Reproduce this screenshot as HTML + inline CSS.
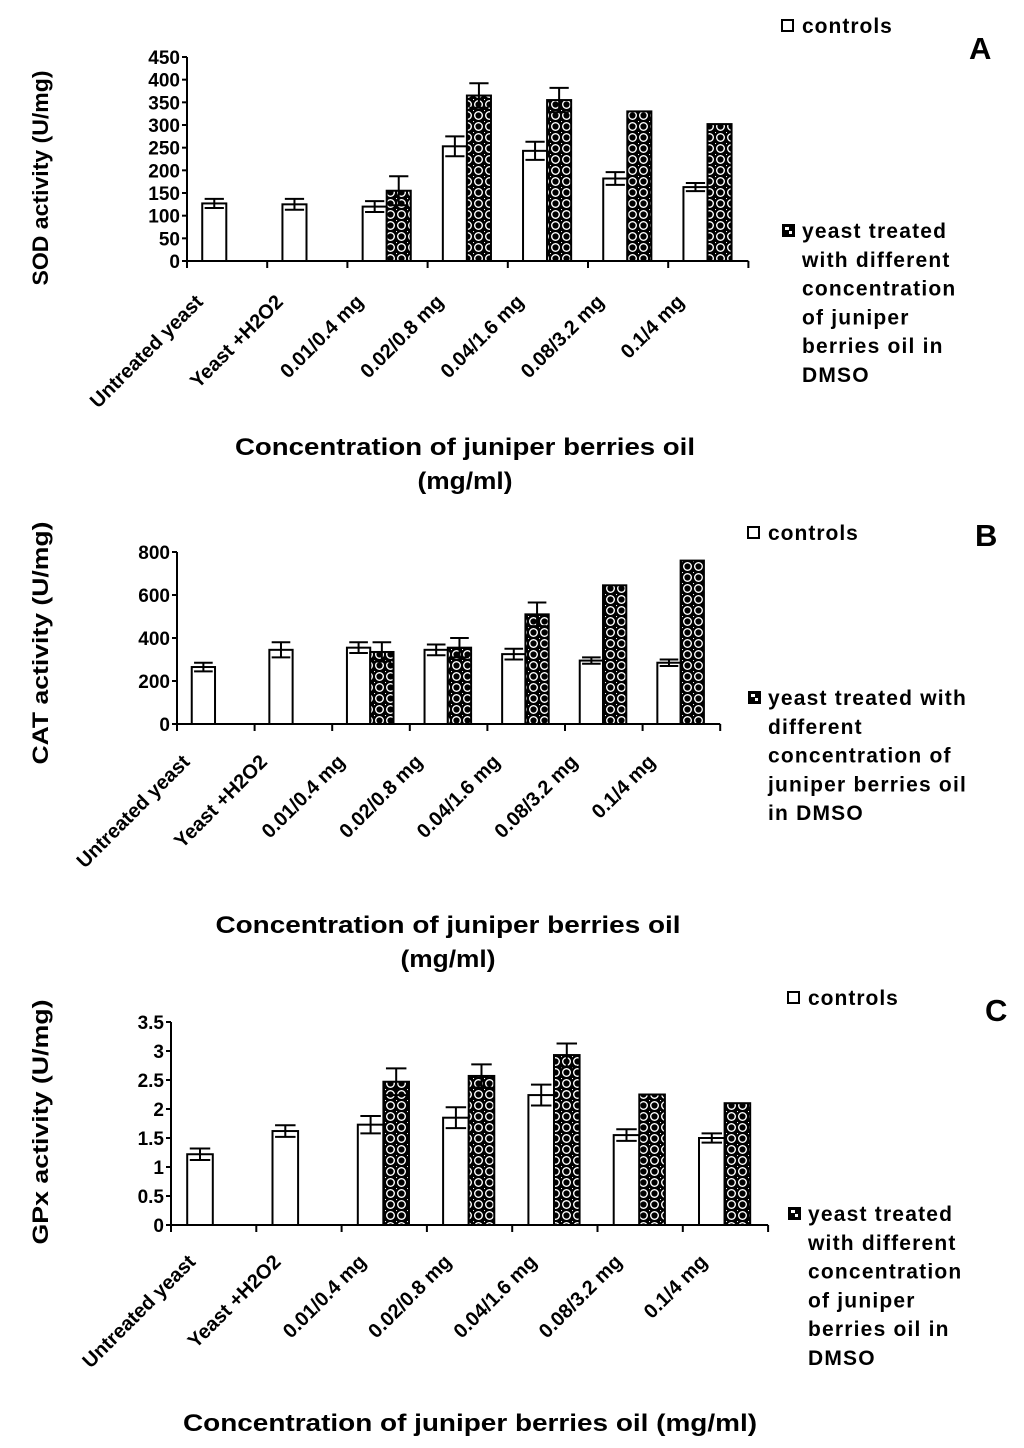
<!DOCTYPE html>
<html><head><meta charset="utf-8"><style>
html,body{margin:0;padding:0;background:#fff}
svg{display:block}
text{font-family:"Liberation Sans",Arial,sans-serif;font-weight:bold;fill:#000}
</style></head><body>
<svg id="fig" width="1024" height="1448" viewBox="0 0 1024 1448" xmlns="http://www.w3.org/2000/svg">
<defs>
<pattern id="dots" width="11" height="11" patternUnits="userSpaceOnUse">
<rect width="11" height="11" fill="#000"/>
<circle cx="5.5" cy="5.5" r="3.8" fill="#000" stroke="#fff" stroke-width="1.4"/>
<circle cx="0" cy="0" r="1.2" fill="#fff"/>
</pattern>
<clipPath id="clipC"><rect x="0" y="0" width="964" height="1448"/></clipPath>
</defs>
<g id="root"></g>
</svg>
<script>
const categories = ["Untreated yeast","Yeast +H2O2","0.01/0.4 mg","0.02/0.8 mg","0.04/1.6 mg","0.08/3.2 mg","0.1/4 mg"];
const sodControls = [127,125,120,253,243,182,163];
const sodControlsErr = [10,12,12,22,20,14,9];
const sodTreated = [null,null,155,365,355,330,302];
const sodTreatedErr = [null,null,32,27,27,0,0];
const sodTicks = [0,50,100,150,200,250,300,350,400,450];
const catControls = [265,345,355,345,325,295,285];
const catControlsErr = [20,35,25,25,25,15,15];
const catTreated = [null,null,335,355,510,645,760];
const catTreatedErr = [null,null,45,45,55,0,0];
const catTicks = [0,200,400,600,800];
const gpxControls = [1.22,1.62,1.73,1.85,2.24,1.55,1.5];
const gpxControlsErr = [0.1,0.1,0.15,0.18,0.18,0.1,0.08];
const gpxTreated = [null,null,2.47,2.57,2.93,2.25,2.1];
const gpxTreatedErr = [null,null,0.23,0.2,0.2,0,0];
const gpxTicks = [0,0.5,1,1.5,2,2.5,3,3.5];

const NS="http://www.w3.org/2000/svg";
const root=document.getElementById('root');
function el(tag,attrs,parent){const e=document.createElementNS(NS,tag);for(const k in attrs)e.setAttribute(k,attrs[k]);(parent||root).appendChild(e);return e;}

function panel(cfg){
  const g=el('g',{});
  
  
  const yScale=v=>cfg.y0-v*cfg.pxPer;
  const xCat=i=>cfg.x0+i*cfg.step;
  const xEnd=xCat(categories.length);
  const ya=el('line',{x1:cfg.x0,y1:cfg.y0,x2:cfg.x0,y2:yScale(cfg.ticks[cfg.ticks.length-1]),stroke:'#000','stroke-width':2},g);
  
  
  cfg.ticks.forEach(t=>{
    el('line',{x1:cfg.x0-5,y1:yScale(t),x2:cfg.x0,y2:yScale(t),stroke:'#000','stroke-width':2},g);
    const tl=el('text',{x:cfg.x0-7,y:yScale(t)+7,'text-anchor':'end','font-size':19},g);
    tl.textContent=String(t);
    
    
  });
  categories.forEach((c,i)=>{
    const bw=cfg.step*0.3, bx=xCat(i)+cfg.step*0.19;
    const series=[[cfg.ctrl,cfg.ctrlErr,'#fff','controls'],[cfg.trt,cfg.trtErr,'url(#dots)','treated']];
    series.forEach((s,si)=>{
      const v=s[0][i]; if(v==null) return;
      const x=bx+si*bw;
      const r=el('rect',{x:x,y:yScale(v),width:bw,height:cfg.y0-yScale(v),fill:s[2],stroke:'#000','stroke-width':2},g);
      
      
      const e=s[1][i];
      if(e){
        const cx=x+bw/2,cw=cfg.step*0.12;
        const eb=el('path',{d:`M${cx},${yScale(v+e)}V${yScale(v-e)}M${cx-cw},${yScale(v+e)}H${cx+cw}M${cx-cw},${yScale(v-e)}H${cx+cw}`,stroke:'#000','stroke-width':2,fill:'none'},g);
        
        
      }
    });
  });
  const xa=el('line',{x1:cfg.x0,y1:cfg.y0,x2:xEnd,y2:cfg.y0,stroke:'#000','stroke-width':2},g);
  
  
  for(let i=0;i<=categories.length;i++) el('line',{x1:xCat(i),y1:cfg.y0,x2:xCat(i),y2:cfg.y0+7,stroke:'#000','stroke-width':2},g);
  categories.forEach((c,i)=>{
    const ex=xCat(i)+cfg.step/2+cfg.lblOff-9, ey=cfg.lblTop+11;
    const t=el('text',{x:ex,y:ey,'text-anchor':'end','font-size':20,transform:`rotate(-45 ${ex} ${ey})`},g);
    t.textContent=c;
    
    
  });
  const yt=el('text',{x:cfg.ytX,y:cfg.ytY,'text-anchor':'middle','font-size':22,textLength:cfg.ytLen,lengthAdjust:'spacingAndGlyphs',transform:`rotate(-90 ${cfg.ytX} ${cfg.ytY})`},g);
  yt.textContent=cfg.ytitle;
  
  
  cfg.xtitle.forEach((line,k)=>{
    const xt=el('text',{x:cfg.xtX,y:cfg.xtY+k*34,'text-anchor':'middle','font-size':24,textLength:cfg.xtLen[k],lengthAdjust:'spacingAndGlyphs'},g);
    xt.textContent=line;
    
    
  });
  const lg=el('g',cfg.clip?{'clip-path':'url(#clipC)'}:{},g);
  
  
  const s1=el('rect',{x:cfg.lgX,y:cfg.lgCtrlY-13,width:11,height:11,fill:'#fff',stroke:'#000','stroke-width':2},lg);
  
  
  const l1=el('text',{x:cfg.lgX+20,y:cfg.lgCtrlY,'font-size':21,'letter-spacing':'1'},lg);
  l1.textContent='controls';
  
  
  const s2=el('rect',{x:cfg.lgX,y:cfg.lgTrtY-14,width:13,height:13,fill:'#000'},lg);
  
  
  el('rect',{x:cfg.lgX+3,y:cfg.lgTrtY-11,width:4,height:3,fill:'#fff'},lg);
  el('rect',{x:cfg.lgX+7,y:cfg.lgTrtY-7,width:3,height:3,fill:'#fff'},lg);
  cfg.lgLines.forEach((line,k)=>{
    const t=el('text',{x:cfg.lgX+20,y:cfg.lgTrtY+k*28.8,'font-size':21,'letter-spacing':'1.2'},lg);
    t.textContent=line;
    
    
  });
  const pl=el('text',{x:cfg.letX,y:cfg.letY,'font-size':31},g);
  pl.textContent=cfg.id;
  
  
}

panel({id:'A',x0:187,y0:261,pxPer:204/450,step:80.2,ticks:sodTicks,ctrl:sodControls,ctrlErr:sodControlsErr,trt:sodTreated,trtErr:sodTreatedErr,
  lblOff:-14,lblTop:292,ytX:48,ytY:178,ytLen:215,ytitle:'SOD activity (U/mg)',xtX:465,xtY:455,xtLen:[460,95],xtitle:['Concentration of juniper berries oil','(mg/ml)'],
  lgX:782,lgCtrlY:33,lgTrtY:238,lgLines:['yeast treated','with different','concentration','of juniper','berries oil in','DMSO'],letX:969,letY:59});
panel({id:'B',x0:177,y0:724,pxPer:172/800,step:77.6,ticks:catTicks,ctrl:catControls,ctrlErr:catControlsErr,trt:catTreated,trtErr:catTreatedErr,
  lblOff:-16,lblTop:752,ytX:48,ytY:643,ytLen:243,ytitle:'CAT activity (U/mg)',xtX:448,xtY:933,xtLen:[465,95],xtitle:['Concentration of juniper berries oil','(mg/ml)'],
  lgX:748,lgCtrlY:540,lgTrtY:705,lgLines:['yeast treated with','different','concentration of','juniper berries oil','in DMSO'],letX:975,letY:546});
panel({id:'C',x0:171,y0:1225,pxPer:203/3.5,step:85.3,ticks:gpxTicks,ctrl:gpxControls,ctrlErr:gpxControlsErr,trt:gpxTreated,trtErr:gpxTreatedErr,
  lblOff:-8,lblTop:1252,ytX:48,ytY:1122,ytLen:245,ytitle:'GPx activity (U/mg)',xtX:470,xtY:1431,xtLen:[574],xtitle:['Concentration of juniper berries oil (mg/ml)'],
  lgX:788,lgCtrlY:1005,lgTrtY:1221,lgLines:['yeast treated','with different','concentration','of juniper','berries oil in','DMSO'],letX:985,letY:1021,clip:true});
</script>
</body></html>
